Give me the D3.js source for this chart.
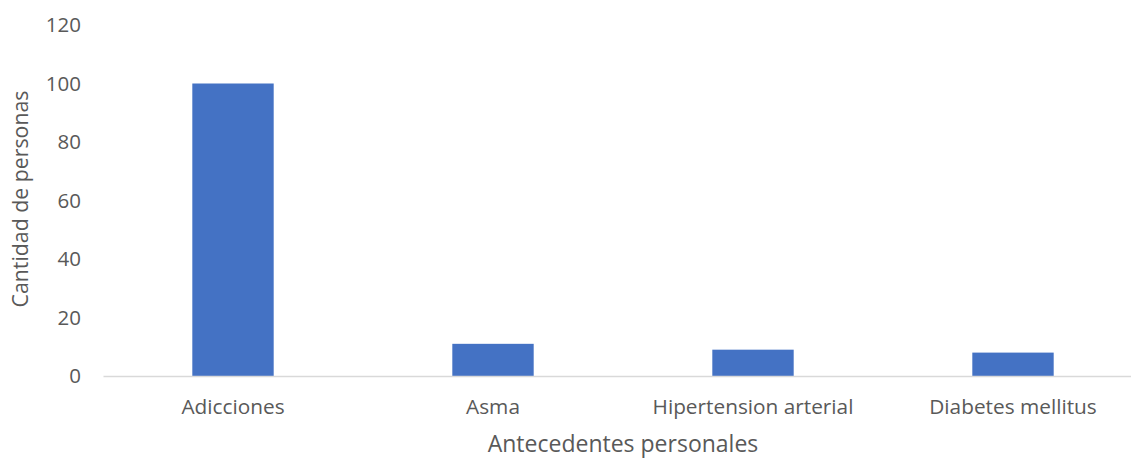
<!DOCTYPE html>
<html><head><meta charset="utf-8">
<script src="https://cdn.jsdelivr.net/npm/d3@7"></script>
<style>body{margin:0;background:#fff}svg{display:block}text{font-family:"Open Sans",sans-serif;fill:#595959}</style>
</head><body><svg id="c" width="1131" height="459"></svg>
<script>
const categories = ["Adicciones","Asma","Hipertension arterial","Diabetes mellitus"];
const values = [100, 11, 9, 8];
const yTicks = [0,20,40,60,80,100,120];
const yTitle = "Cantidad de personas";
const xTitle = "Antecedentes personales";

const svg = d3.select("#c");
const x = d3.scaleBand().domain(categories).range([103,1143]).paddingInner(0.687).paddingOuter(0.3435);
const y = d3.scaleLinear().domain([0,120]).range([376,25]);

svg.append("g").selectAll("rect").data(values).join("rect")
  .attr("x",(d,i)=>x(categories[i])).attr("width",x.bandwidth())
  .attr("y",d=>y(d)).attr("height",d=>y(0)-y(d)).attr("fill","#4472C4");

const ya = svg.append("g").attr("transform","translate(81,0)")
  .call(d3.axisLeft(y).tickValues(yTicks).tickSize(0).tickPadding(0));
ya.select(".domain").remove();
ya.selectAll("text").attr("font-size",20.5).style("font-family","'Open Sans',sans-serif").attr("fill","#595959");

const xa = svg.append("g").attr("transform","translate(0,376)")
  .call(d3.axisBottom(x).tickSize(0).tickPadding(23));
xa.select(".domain").attr("stroke","#d9d9d9").attr("stroke-width",1.5);
xa.selectAll("text").attr("font-size",20.8).style("font-family","'Open Sans',sans-serif").attr("fill","#595959");

svg.append("text").attr("x",623).attr("y",452).attr("text-anchor","middle").attr("font-size",23).text(xTitle);
svg.append("text").attr("transform","translate(28,199) rotate(-90)").attr("text-anchor","middle").attr("font-size",21.3).text(yTitle);
</script></body></html>
